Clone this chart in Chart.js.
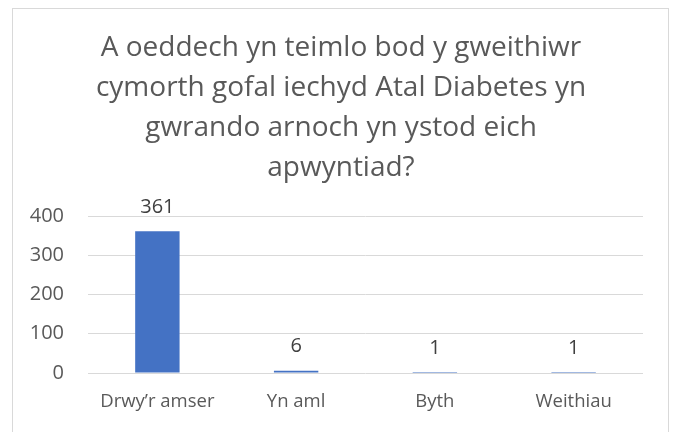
<!DOCTYPE html>
<html>
<head>
  <title>Atal Diabetes</title>
  <meta name="viewport" content="width=device-width, initial-scale=1">
  <script src="https://cdn.jsdelivr.net/npm/chart.js"></script>
  <style>
    body {
      margin: 0;
      padding: 0;
      background: #fff;
    }

    #frame {
      position: absolute;
      left: 12px;
      top: 8px;
      width: 657px;
      height: 430px;
      border: 1px solid #d9d9d9;
      box-sizing: border-box;
    }

    #chart-container {
      position: absolute;
      left: 0;
      top: 0;
      width: 678px;
      height: 432px;
    }
  </style>
</head>
<body>

  <div id="frame"></div>
  <div id="chart-container">
    <canvas id="myChart"></canvas>
  </div>

  <script>
    const titleLines = [
      'A oeddech yn teimlo bod y gweithiwr',
      'cymorth gofal iechyd Atal Diabetes yn',
      'gwrando arnoch yn ystod eich',
      'apwyntiad?'
    ];
    const categories = ['Drwy\u2019r amser', 'Yn aml', 'Byth', 'Weithiau'];
    const counts = [361, 6, 1, 1];
    const yTicks = [0, 100, 200, 300, 400];

    const fontFamily = "'Open Sans', Lato, sans-serif";

    // labels above the bars
    const valueLabels = {
      id: 'valueLabels',
      afterDatasetsDraw(chart) {
        const c = chart.ctx;
        const meta = chart.getDatasetMeta(0);
        c.save();
        c.font = '20px ' + fontFamily;
        c.fillStyle = '#404040';
        c.textAlign = 'center';
        c.textBaseline = 'middle';
        meta.data.forEach((bar, i) => {
          c.fillText(String(counts[i]), bar.x, bar.y - 24);
        });
        c.restore();
      }
    };

    const ctx = document.getElementById('myChart').getContext('2d');
    const chart = new Chart(ctx, {
      type: 'bar',
      data: {
        labels: categories,
        datasets: [{
          data: counts,
          backgroundColor: '#4472C4',
          categoryPercentage: 1,
          barPercentage: 0.32,
          minBarLength: 1
        }]
      },
      options: {
        responsive: true,
        maintainAspectRatio: false,
        animation: false,
        layout: {
          padding: { left: 25, right: 21, top: 0, bottom: 0 }
        },
        plugins: {
          legend: { display: false },
          tooltip: { enabled: false },
          title: {
            display: true,
            text: titleLines,
            color: '#595959',
            font: { family: fontFamily, size: 28, weight: 'normal', lineHeight: '40px' },
            padding: { top: 28, bottom: 28 }
          }
        },
        scales: {
          x: {
            afterFit(scale) {
              scale.height = 59;
            },
            grid: { display: false, drawTicks: false },
            border: { display: false },
            ticks: {
              color: '#595959',
              font: { family: fontFamily, size: 18.5 },
              padding: 18
            }
          },
          y: {
            min: 0,
            max: 400,
            afterBuildTicks(scale) {
              scale.ticks = yTicks.map(v => ({ value: v }));
            },
            afterFit(scale) {
              scale.width = 63;
            },
            grid: { color: '#d9d9d9', lineWidth: 1, drawTicks: false },
            border: { display: false },
            ticks: {
              color: '#595959',
              font: { family: fontFamily, size: 20 },
              padding: 24
            }
          },
          // empty right-hand gutter
          y2: {
            position: 'right',
            display: true,
            afterFit(scale) {
              scale.width = 14;
            },
            grid: { display: false, drawTicks: false },
            border: { display: false },
            ticks: { display: false }
          }
        }
      },
      plugins: [valueLabels]
    });
  </script>

</body>
</html>
